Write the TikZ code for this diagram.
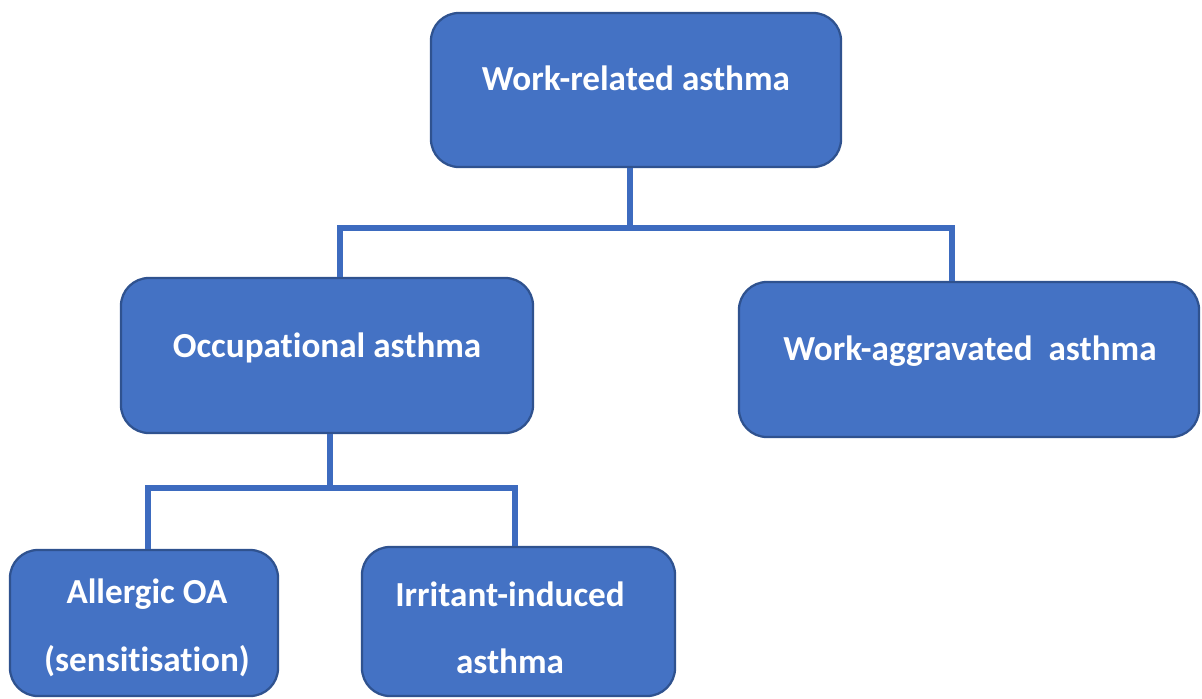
\documentclass[tikz,border=0pt]{standalone}
\usepackage{fontspec}
\setmainfont[Ligatures=NoCommon]{Carlito}
\definecolor{boxblue}{HTML}{4472C4}
\definecolor{edgeblue}{HTML}{2F528F}
\definecolor{linkblue}{HTML}{3D6BBF}

\begin{document}
\begin{tikzpicture}[x=0.025cm,y=-0.025cm,font=\bfseries\fontsize{25}{48}\selectfont,
  stage/.style={draw=edgeblue,line width=1.6pt,fill=boxblue,rounded corners=0.7cm,inner sep=0pt},
  caption/.style={text=white,align=center,inner sep=0pt},
  link/.style={draw=linkblue,line width=3.8pt}]
\useasboundingbox (0,0) rectangle (1202,698);
\node[stage,minimum width=10.25cm,minimum height=3.85cm] (wra) at (636,90) {};
\node[stage,minimum width=10.3cm,minimum height=3.875cm] (occ) at (327,355.5) {};
\node[stage,minimum width=11.5cm,minimum height=3.875cm] (wag) at (969,359.5) {};
\node[stage,minimum width=6.7cm,minimum height=3.65cm] (alg) at (144,623) {};
\node[stage,minimum width=7.825cm,minimum height=3.725cm] (irr) at (518.5,621.5) {};
\node[caption,anchor=base] (wra-t) at (636,90) {Work-related asthma};
\node[caption,anchor=base] (occ-t) at (327,357) {Occupational asthma};
\node[caption,anchor=base] (wag-t) at (970,360) {Work-aggravated\ \ asthma};
\node[caption] (alg-t) at (147,628) {Allergic OA\\(sensitisation)};
\node[caption] (irr-t) at (510,628) {Irritant-induced\\asthma};
\coordinate (j1) at (630,228); \coordinate (j1l) at (340,228); \coordinate (j1r) at (952,228);
\coordinate (j2) at (330,488); \coordinate (j2l) at (148,488); \coordinate (j2r) at (515,488);
\draw[link] (wra.south -| j1) -- (j1); \draw[link] (occ.north -| j1l) -- (j1l) -- (j1r) -- (wag.north -| j1r);
\draw[link] (occ.south -| j2) -- (j2); \draw[link] (alg.north -| j2l) -- (j2l) -- (j2r) -- (irr.north -| j2r);
\end{tikzpicture}
\end{document}
